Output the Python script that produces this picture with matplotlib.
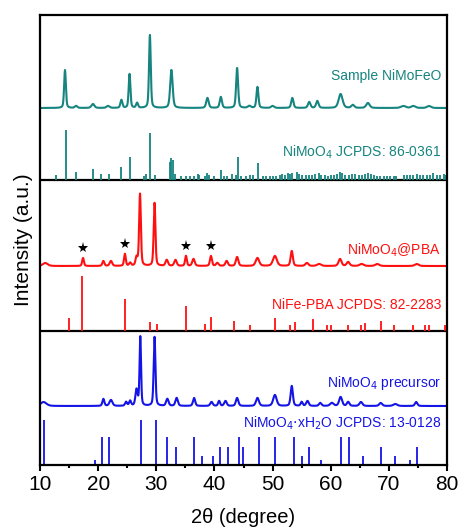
import numpy as np
import matplotlib
matplotlib.use('Agg')
from matplotlib import pyplot as plt

plt.rcParams['font.family'] = ['Liberation Sans', 'DejaVu Sans']

# measured peaks: (2theta, height, fwhm)  - heights in pixel-like units
nimofeo_pos = [14.3, 16.2, 19.1, 21.7, 24.0, 25.4, 26.7, 28.9, 32.6, 38.8, 41.1, 43.9,
               46.0, 47.4, 50.0, 53.4, 56.3, 57.7, 61.7, 63.8, 66.4, 72.5, 74.2, 76.9]
nimofeo_int = [38, 2, 4, 2, 8, 34, 5, 73, 38, 10, 11, 40,
               2, 21, 2, 10, 6, 7, 14, 3, 5, 2, 2, 2]
nimofeo_w = [0.35, 0.5, 0.6, 0.6, 0.4, 0.35, 0.4, 0.35, 0.5, 0.5, 0.45, 0.4,
             0.6, 0.4, 0.6, 0.45, 0.5, 0.5, 0.8, 0.6, 0.7, 1.0, 0.8, 0.8]

ref_86_0361_pos = [12.7, 14.4, 16.2, 19.1, 20.5, 21.8, 24.0, 25.4, 27.9, 28.2, 29.0, 29.8,
                   32.4, 32.6, 32.9, 33.2, 34.3, 35.1, 35.8, 36.5, 37.1, 37.4, 38.3, 38.7,
                   39.1, 40.0, 41.1, 41.6, 42.2, 43.1, 43.7, 44.0, 44.6, 45.5, 46.2, 46.6,
                   47.5, 48.4, 48.9, 49.5, 50.1, 50.6, 51.2, 51.7, 52.1, 52.6, 53.0, 53.4,
                   54.2, 54.6, 55.1, 55.7, 56.2, 56.8, 57.3, 57.9, 58.4, 59.0, 59.5, 60.1,
                   60.6, 61.1, 61.6, 62.0, 62.5, 63.1, 63.6, 64.2, 64.8, 65.3, 65.9, 66.4,
                   66.9, 67.4, 68.0, 68.5, 69.1, 69.6, 70.2, 70.8, 71.3, 72.6, 73.1, 73.7,
                   74.2, 74.8, 75.3, 75.9, 76.5, 77.1, 77.6, 78.2, 78.8, 79.4, 79.9]
ref_86_0361_int = [5, 50, 8, 11, 6, 6, 13, 23, 4, 6, 47, 5,
                   18, 22, 20, 6, 4, 4, 4, 4, 6, 5, 4, 7,
                   5, 4, 10, 4, 4, 6, 5, 23, 4, 4, 5, 5,
                   17, 4, 4, 4, 4, 4, 5, 6, 5, 7, 6, 7,
                   8, 6, 5, 5, 5, 5, 6, 7, 5, 5, 4, 5,
                   5, 6, 8, 7, 5, 5, 6, 6, 5, 5, 6, 7,
                   6, 5, 4, 4, 4, 4, 4, 4, 4, 5, 5, 5,
                   5, 6, 5, 5, 5, 5, 7, 5, 5, 6, 5]

pba_pos = [10.9, 17.4, 20.9, 22.2, 24.6, 25.5, 26.6, 27.2, 29.7, 31.8, 33.3, 35.1,
           36.4, 39.4, 40.5, 42.1, 43.9, 47.4, 50.4, 53.3, 55.9, 58.0, 61.6, 63.0,
           65.3, 68.0, 74.8]
pba_int = [3, 8, 5, 5, 12, 3, 8, 72, 63, 6, 6, 10,
           7, 10, 3, 5, 9, 8, 10, 15, 3, 2, 7, 4,
           2, 2, 2]
pba_w = [1.0, 0.35, 0.4, 0.5, 0.35, 0.4, 0.4, 0.35, 0.35, 0.5, 0.5, 0.35,
         0.5, 0.4, 0.5, 0.5, 0.5, 0.7, 0.8, 0.45, 0.6, 0.8, 0.6, 0.6,
         0.8, 0.8, 0.8]
star_pos = [17.4, 24.6, 35.1, 39.4]

ref_82_2283_pos = [15.0, 17.3, 24.6, 28.9, 30.2, 35.1, 38.4, 39.4, 43.4, 46.1, 50.5, 53.0,
                   53.8, 56.9, 59.3, 60.0, 63.0, 65.2, 65.9, 68.7, 70.9, 74.2, 76.2, 76.9,
                   79.7]
ref_82_2283_int = [13, 55, 32, 9, 7, 25, 7, 14, 10, 6, 13, 6,
                   9, 12, 6, 6, 6, 6, 8, 10, 6, 6, 6, 6,
                   6]

prec_pos = [10.6, 20.9, 22.2, 24.8, 25.5, 26.6, 27.25, 29.7, 31.9, 33.5, 36.5, 39.5,
            40.8, 41.9, 43.9, 47.4, 50.4, 53.3, 55.0, 56.0, 58.2, 60.2, 61.7, 63.0,
            65.2, 68.6, 71.1, 74.7]
prec_int = [4, 7, 6, 4, 5, 16, 69, 69, 7, 8, 8, 4,
            5, 5, 8, 8, 11, 20, 4, 5, 3, 3, 9, 4,
            4, 3, 2, 4]
prec_w = [1.2, 0.4, 0.6, 0.4, 0.4, 0.45, 0.3, 0.35, 0.5, 0.5, 0.45, 0.5,
          0.4, 0.5, 0.5, 0.6, 0.7, 0.45, 0.4, 0.5, 0.5, 0.7, 0.6, 0.5,
          0.6, 0.6, 0.8, 0.5]

ref_13_0128_pos = [10.75, 19.5, 20.6, 21.9, 27.4, 29.9, 31.8, 33.4, 36.5, 37.8, 39.7, 41.0,
                   42.4, 44.2, 44.9, 47.6, 50.5, 53.6, 55.0, 56.2, 58.3, 61.8, 63.2, 65.5,
                   68.6, 71.1, 73.6, 74.9]
ref_13_0128_int = [45, 5, 28, 28, 45, 45, 28, 18, 28, 9, 9, 18,
                   18, 28, 18, 28, 28, 28, 9, 18, 5, 28, 28, 9,
                   18, 9, 5, 18]

teal = '#16847f'
red = '#ff1010'
blue = '#1414e6'


def pattern(x, pos, inten, width):
    y = np.zeros_like(x)
    for p, h, w in zip(pos, inten, width):
        g = np.exp(-4 * np.log(2) * ((x - p) / w) ** 2)
        l = 1 / (1 + 4 * ((x - p) / w) ** 2)
        y += h * (0.6 * g + 0.4 * l)
    return y


x = np.linspace(10, 80, 3000)

fig = plt.figure(figsize=(4.59, 5.30), dpi=100)
ax = fig.add_axes([40 / 459, 65 / 530, 407 / 459, 450 / 530])

# panel baselines
b_prec, b_pba_ref, b_pba, b_mo_ref, b_nimofeo = 59, 134, 199, 285, 357

ax.vlines(ref_13_0128_pos, 0, ref_13_0128_int, color=blue, lw=1.3)
ax.plot(x, b_prec + pattern(x, prec_pos, prec_int, prec_w), color=blue, lw=1.5)
ax.axhline(b_pba_ref, color='k', lw=1.6)
ax.vlines(ref_82_2283_pos, b_pba_ref, b_pba_ref + np.array(ref_82_2283_int), color=red, lw=1.3)
y_pba = b_pba + pattern(x, pba_pos, pba_int, pba_w)
ax.plot(x, y_pba, color=red, lw=1.5)
ax.plot(star_pos, np.interp(star_pos, x, y_pba) + 10, '*', color='k', ms=8, mew=0)
ax.axhline(b_mo_ref, color='k', lw=1.6)
ax.vlines(ref_86_0361_pos, b_mo_ref, b_mo_ref + np.array(ref_86_0361_int), color=teal, lw=1.3)
ax.plot(x, b_nimofeo + pattern(x, nimofeo_pos, nimofeo_int, nimofeo_w), color=teal, lw=1.5)

fs = 10
ax.text(79.0, 389, 'Sample NiMoFeO', color=teal, ha='right', va='center', fontsize=fs)
ax.text(79.0, 313, 'NiMoO$_4$ JCPDS: 86-0361', color=teal, ha='right', va='center', fontsize=fs)
ax.text(79.0, 215, 'NiMoO$_4$@PBA', color=red, ha='right', va='center', fontsize=fs)
ax.text(79.0, 160, 'NiFe-PBA JCPDS: 82-2283', color=red, ha='right', va='center', fontsize=fs)
ax.text(79.0, 82, 'NiMoO$_4$ precursor', color=blue, ha='right', va='center', fontsize=fs)
ax.text(79.0, 42, 'NiMoO$_4$$\\cdot$xH$_2$O JCPDS: 13-0128', color=blue, ha='right', va='center', fontsize=fs)

ax.set_xlim(10, 80)
ax.set_ylim(0, 450)
ax.set_xticks(range(10, 81, 10))
ax.set_xticks(range(15, 80, 10), minor=True)
ax.set_yticks([])
ax.tick_params(axis='x', which='major', direction='out', length=4, width=1.5, labelsize=15, pad=3)
ax.tick_params(axis='x', which='minor', direction='out', length=2, width=1.5)
for s in ax.spines.values():
    s.set_linewidth(1.6)
ax.set_xlabel('2θ (degree)', fontsize=14.5, labelpad=10)
ax.set_ylabel('Intensity (a.u.)', fontsize=15, labelpad=5)

plt.savefig('out.png', dpi=100)
plt.close()
